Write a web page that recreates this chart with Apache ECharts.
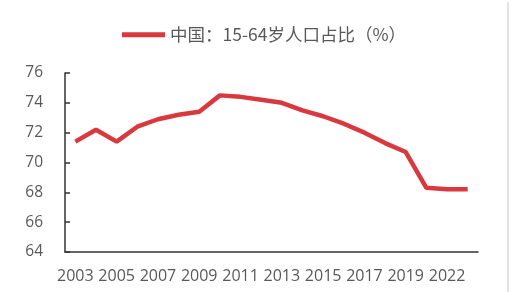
<!DOCTYPE html>
<html>
<head>
<meta charset="utf-8">
<script src="https://cdn.jsdelivr.net/npm/echarts@6/dist/echarts.min.js"></script>
<style>html,body{margin:0;padding:0;background:#fff}#c{width:520px;height:292px}</style>
</head>
<body>
<div id="c"></div>
<script>
var years = ['2003','2004','2005','2006','2007','2008','2009','2010','2011','2012','2013','2014','2015','2016','2017','2018','2019','2021','2022','2023'];
var ratio = [71.4, 72.2, 71.4, 72.4, 72.9, 73.2, 73.4, 74.5, 74.4, 74.2, 74.0, 73.5, 73.1, 72.6, 72.0, 71.3, 70.7, 68.3, 68.2, 68.2];
var seriesName = '中国：15-64岁人口占比（%）';
var yTicks = {min: 64, max: 76, interval: 2};

var chart = echarts.init(document.getElementById('c'));
chart.setOption({
  animation: false,
  backgroundColor: '#fff',
  legend: {
    top: 21, left: 117,
    icon: 'rect', itemWidth: 43, itemHeight: 5, itemGap: 6,
    textStyle: {fontSize: 17.5, color: '#595959', fontFamily: 'Noto Sans CJK SC'},
    data: [seriesName]
  },
  grid: {left: 65, right: 42, top: 73, bottom: 40},
  xAxis: {
    type: 'category', data: years, boundaryGap: true,
    axisLine: {lineStyle: {color: '#333', width: 1.5}},
    axisTick: {show: false},
    axisLabel: {interval: 1, color: '#595959', fontSize: 16, margin: 16, fontFamily: 'Open Sans'}
  },
  yAxis: {
    type: 'value', min: yTicks.min, max: yTicks.max, interval: yTicks.interval,
    splitLine: {show: false},
    axisLine: {show: true, lineStyle: {color: '#333', width: 1.5}},
    axisTick: {show: true, inside: true, length: 5, lineStyle: {color: '#333', width: 1.5}},
    axisLabel: {color: '#595959', fontSize: 15.5, margin: 22, fontFamily: 'Open Sans'}
  },
  graphic: [{type: 'line', shape: {x1: 508, y1: 2, x2: 508, y2: 292}, style: {stroke: '#c8c8c8', lineWidth: 1}}],
  series: [{
    name: seriesName, type: 'line', data: ratio,
    symbol: 'none', lineStyle: {color: '#d9393e', width: 4.5}, itemStyle: {color: '#d9393e'}
  }]
});
</script>
</body>
</html>
